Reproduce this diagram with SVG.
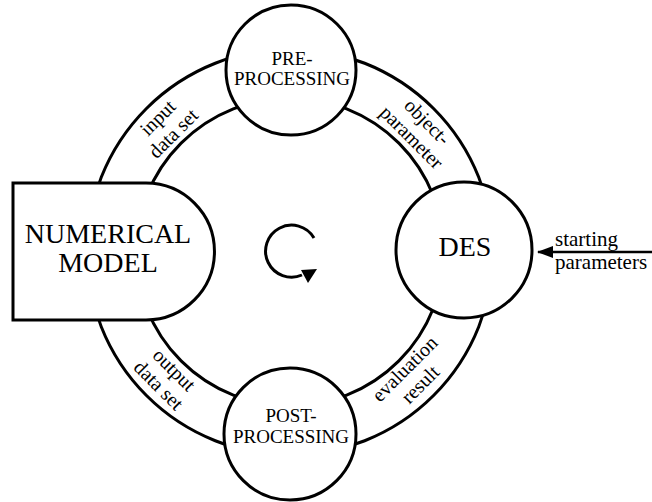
<svg xmlns="http://www.w3.org/2000/svg" width="652" height="502" viewBox="0 0 652 502">
<style>
.ln{fill:none;stroke:#000;stroke-width:3}
.nd{fill:#fff;stroke:#000;stroke-width:3}
text{font-family:"Liberation Serif","Times New Roman",serif;fill:#000}
.big{font-size:28px;text-anchor:middle}
.mid{font-size:19px;text-anchor:middle}
.lab{font-size:20px;text-anchor:middle}
.sp{font-size:21px}
</style>
<defs>
<marker id="ah" markerWidth="16" markerHeight="12" refX="15" refY="6" orient="auto" markerUnits="userSpaceOnUse">
<path d="M0,0 L16,6 L0,12 Z" fill="#000"/>
</marker>
</defs>
<g id="connectors">
<circle class="ln" cx="290" cy="252" r="203"/>
<circle class="ln" cx="290" cy="252" r="154"/>
<line x1="652" y1="252" x2="538" y2="252" stroke="#000" stroke-width="2.5" marker-end="url(#ah)"/>
<path class="ln" d="M314,238 A26,26 0 1 0 302,275" stroke-width="2.5"/>
<polygon points="301,270 317,269 308,283" fill="#000"/>
</g>
<g id="labels">
<g transform="translate(166,126) rotate(-45)"><text class="lab" y="-5">input</text><text class="lab" y="17">data set</text></g>
<g transform="translate(419,130) rotate(45)"><text class="lab" y="-5">object-</text><text class="lab" y="17">parameter</text></g>
<g transform="translate(413,377) rotate(-45)"><text class="lab" y="-5">evaluation</text><text class="lab" y="17">result</text></g>
<g transform="translate(166,378) rotate(45)"><text class="lab" y="-5">output</text><text class="lab" y="17">data set</text></g>
<text class="sp" x="555" y="246">starting</text>
<text class="sp" x="555" y="269">parameters</text>
</g>
<g id="pre">
<circle class="nd" cx="291" cy="70" r="65"/>
<text class="mid" x="292" y="65">PRE-</text>
<text class="mid" x="292" y="85">PROCESSING</text>
</g>
<g id="des">
<circle class="nd" cx="464" cy="250" r="68"/>
<text class="big" x="465" y="256">DES</text>
</g>
<g id="post">
<circle class="nd" cx="290" cy="434" r="66"/>
<text class="mid" x="291" y="422">POST-</text>
<text class="mid" x="291" y="443">PROCESSING</text>
</g>
<g id="model">
<path class="nd" d="M13,183 H146 A68.5,68.5 0 0 1 146,320 H13 Z"/>
<text class="big" x="108" y="243">NUMERICAL</text>
<text class="big" x="108" y="272">MODEL</text>
</g>
</svg>
